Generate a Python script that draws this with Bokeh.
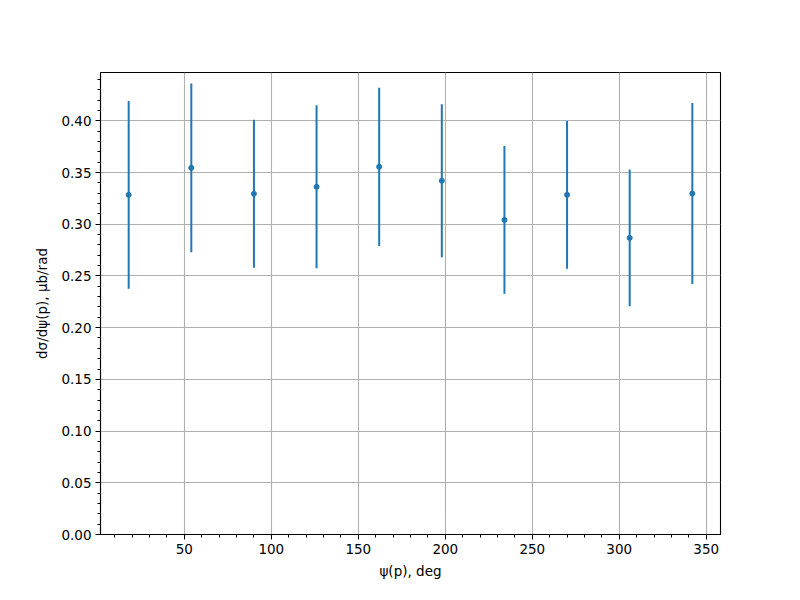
from bokeh.plotting import figure
from bokeh.models import SingleIntervalTicker, NumeralTickFormatter, Range1d
from bokeh.embed import file_html
from bokeh.resources import INLINE

# Data
psi_deg = [18, 54, 90, 126, 162, 198, 234, 270, 306, 342]
dsigma = [0.3284, 0.3545, 0.3294, 0.3362, 0.3555, 0.3420, 0.3042, 0.3284, 0.2868, 0.3297]
err = [0.0908, 0.0816, 0.0715, 0.0788, 0.0765, 0.0740, 0.0715, 0.0715, 0.0661, 0.0875]

lower = [y - e for y, e in zip(dsigma, err)]
upper = [y + e for y, e in zip(dsigma, err)]

BLUE = "#1f77b4"
FONT = "DejaVu Sans"

p = figure(
    output_backend="svg", toolbar_location=None,
    frame_width=620, frame_height=462,
    min_border_left=100, min_border_right=72, min_border_top=72, min_border_bottom=56,
    x_range=Range1d(1.8, 358.2), y_range=Range1d(0.0, 0.4467),
    background_fill_color="white", border_fill_color="white",
)
p.outline_line_color = "black"
p.outline_line_width = 1.1

p.xaxis.ticker = SingleIntervalTicker(interval=50, num_minor_ticks=5)
p.yaxis.ticker = SingleIntervalTicker(interval=0.05, num_minor_ticks=5)
p.yaxis.formatter = NumeralTickFormatter(format="0.00")

for ax in (p.xaxis[0], p.yaxis[0]):
    ax.axis_line_color = "black"
    ax.axis_line_width = 1.1
    ax.major_tick_out = 5
    ax.major_tick_in = 0
    ax.minor_tick_out = 3
    ax.minor_tick_in = 0
    ax.major_tick_line_color = "black"
    ax.minor_tick_line_color = "black"
    ax.major_label_text_font = FONT
    ax.major_label_text_font_size = "13.5px"
    ax.major_label_text_color = "black"
    ax.axis_label_text_font = FONT
    ax.axis_label_text_font_size = "13.5px"
    ax.axis_label_text_font_style = "normal"
    ax.axis_label_text_color = "black"
    ax.major_label_standoff = 4

p.xaxis.axis_label = "ψ(p), deg"
p.yaxis.axis_label = "dσ/dψ(p), μb/rad"
p.xaxis.axis_label_standoff = 6
p.yaxis.axis_label_standoff = 8

p.grid.grid_line_color = "#b0b0b0"
p.grid.grid_line_width = 1.1

p.segment(x0=psi_deg, y0=lower, x1=psi_deg, y1=upper, line_color=BLUE, line_width=2)
p.scatter(x=psi_deg, y=dsigma, size=5, fill_color=BLUE, line_color=BLUE)

open("out.html", "w").write(file_html(p, INLINE))
